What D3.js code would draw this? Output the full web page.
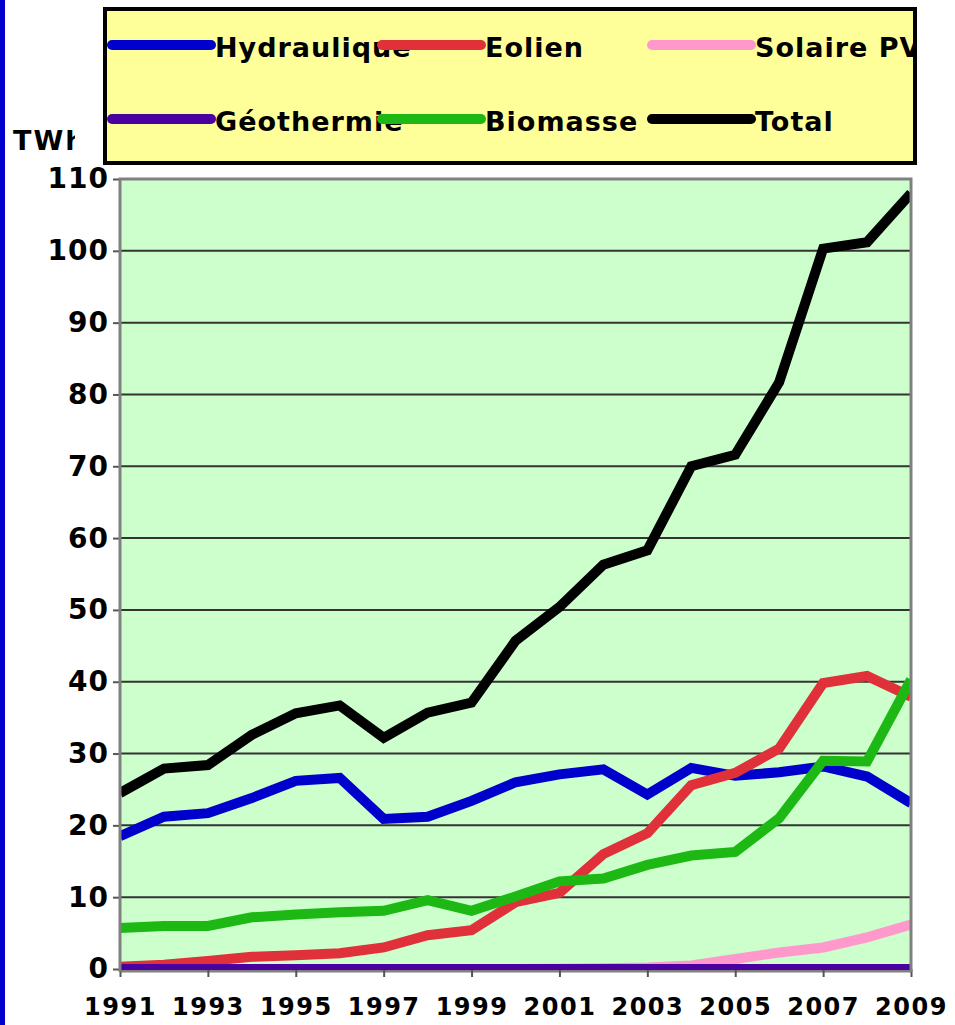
<!DOCTYPE html>
<html>
<head>
<meta charset="utf-8">
<script src="https://cdn.jsdelivr.net/npm/d3@7"></script>
<style>
  html, body { margin: 0; padding: 0; background: #ffffff; }
  svg { display: block; }
  text { font-family: "DejaVu Sans", Verdana, sans-serif; font-weight: bold; fill: #000; }
</style>
</head>
<body>
<svg id="chart" width="955" height="1025"></svg>
<script>
const years = [1991,1992,1993,1994,1995,1996,1997,1998,1999,2000,2001,2002,2003,2004,2005,2006,2007,2008,2009];
const hydraulique = [18.5,21.2,21.7,23.8,26.2,26.6,20.9,21.2,23.4,26.0,27.1,27.8,24.3,28.0,26.9,27.4,28.2,26.8,23.1];
const eolien      = [0.3,0.6,1.1,1.7,1.9,2.2,3.0,4.7,5.4,9.3,10.6,16.0,18.9,25.6,27.3,30.7,39.8,40.8,37.9];
const solairePV   = [0,0,0,0,0,0,0,0,0,0,0.05,0.1,0.2,0.5,1.4,2.3,3.0,4.4,6.2];
const geothermie  = [0,0,0,0,0,0,0,0,0,0,0,0,0,0,0,0,0,0,0];
const biomasse    = [5.7,6.0,6.0,7.2,7.6,7.9,8.1,9.6,8.1,10.1,12.2,12.6,14.5,15.8,16.3,21.0,29.0,28.9,40.3];
const total       = [24.5,27.9,28.4,32.6,35.6,36.7,32.2,35.7,37.1,45.7,50.4,56.3,58.3,70.0,71.6,81.7,100.3,101.2,108.0];

const seriesNames  = ["Hydraulique","Eolien","Solaire PV","Géothermie","Biomasse","Total"];
const seriesColors = ["#0000CC","#E0303A","#FF99CC","#4B00A0","#1EB814","#000000"];
const seriesValues = [hydraulique, eolien, solairePV, geothermie, biomasse, total];

const yTicks = [0,10,20,30,40,50,60,70,80,90,100,110];
const xTicks = [1991,1993,1995,1997,1999,2001,2003,2005,2007,2009];
const yUnit = "TWh";

const svg = d3.select("#chart");

const plot = {left: 120, right: 911, top: 179, bottom: 969};
const x = d3.scaleLinear().domain([1991, 2009]).range([plot.left, plot.right]);
const y = d3.scaleLinear().domain([0, 110]).range([plot.bottom, plot.top]);

// left blue border of the slide
svg.append("rect").attr("x", 0).attr("y", 0).attr("width", 5).attr("height", 1025).attr("fill", "#0000CC");

// plot background
svg.append("rect")
  .attr("x", plot.left).attr("y", plot.top)
  .attr("width", plot.right - plot.left).attr("height", plot.bottom - plot.top)
  .attr("fill", "#CCFFCC");

// gridlines
svg.append("g").selectAll("line")
  .data(yTicks.filter(d => d > 0 && d < 110))
  .join("line")
  .attr("x1", plot.left).attr("x2", plot.right)
  .attr("y1", d => y(d)).attr("y2", d => y(d))
  .attr("stroke", "#333333").attr("stroke-width", 2);

// bottom axis line (under the series)
svg.append("line")
  .attr("x1", plot.left).attr("x2", plot.right)
  .attr("y1", plot.bottom + 2).attr("y2", plot.bottom + 2)
  .attr("stroke", "#808080").attr("stroke-width", 3);

// y axis
const yAxis = d3.axisLeft(y).tickValues(yTicks).tickSize(7).tickPadding(4).tickFormat(d3.format("d"));
const gy = svg.append("g").attr("transform", `translate(${plot.left},0)`).call(yAxis);
gy.select(".domain").remove();
gy.selectAll(".tick line").attr("stroke", "#555").attr("stroke-width", 2);
gy.selectAll(".tick text")
  .style("font-family", "'DejaVu Sans', Verdana, sans-serif")
  .style("font-weight", "bold").style("font-size", "28px")
  .style("letter-spacing", "1px").attr("fill", "#000");

// x axis
const xAxis = d3.axisBottom(x).tickValues(xTicks).tickSize(8).tickPadding(21).tickFormat(d3.format("d"));
const gx = svg.append("g").attr("transform", `translate(0,${plot.bottom})`).call(xAxis);
gx.select(".domain").remove();
gx.selectAll(".tick line").attr("stroke", "#555").attr("stroke-width", 2);
gx.selectAll(".tick text")
  .style("font-family", "'DejaVu Sans', Verdana, sans-serif")
  .style("font-weight", "bold").style("font-size", "24px")
  .style("letter-spacing", "1.5px").attr("fill", "#000");

// clip for lines
svg.append("clipPath").attr("id", "plotclip")
  .append("rect").attr("x", plot.left).attr("y", plot.top)
  .attr("width", plot.right - plot.left).attr("height", plot.bottom - plot.top + 1);

const line = d3.line().x((d, i) => x(years[i])).y(d => y(d));
const lines = svg.append("g").attr("clip-path", "url(#plotclip)");
seriesValues.forEach((vals, k) => {
  lines.append("path")
    .attr("d", line(vals))
    .attr("fill", "none")
    .attr("stroke", seriesColors[k])
    .attr("stroke-width", 10)
    .attr("stroke-linejoin", "miter");
});

// plot frame (gray): left, top, right
svg.append("path")
  .attr("d", `M${plot.left},${plot.bottom + 3} L${plot.left},${plot.top} L${plot.right},${plot.top} L${plot.right},${plot.bottom + 3}`)
  .attr("fill", "none").attr("stroke", "#808080").attr("stroke-width", 3);

// unit label (clipped like its text box)
svg.append("clipPath").attr("id", "unitclip")
  .append("rect").attr("x", 8).attr("y", 110).attr("width", 67).attr("height", 50);
svg.append("text").attr("x", 13).attr("y", 150).attr("clip-path", "url(#unitclip)")
  .style("font-size", "27px").style("letter-spacing", "2px").text(yUnit);

// legend
const lg = svg.append("g");
lg.append("clipPath").attr("id", "legclip")
  .append("rect").attr("x", 105).attr("y", 9).attr("width", 810).attr("height", 154);
lg.append("rect").attr("x", 105).attr("y", 9).attr("width", 810).attr("height", 154)
  .attr("fill", "#FFFF99");
const lgi = lg.append("g").attr("clip-path", "url(#legclip)");
seriesNames.forEach((name, k) => {
  const col = k % 3, row = Math.floor(k / 3);
  const lx = 112 + col * 270;
  const ly = 45 + row * 74;
  lgi.append("line")
    .attr("x1", lx).attr("x2", lx + 99).attr("y1", ly).attr("y2", ly)
    .attr("stroke", seriesColors[k]).attr("stroke-width", 10).attr("stroke-linecap", "round");
  lgi.append("text").attr("x", lx + 103).attr("y", ly + 12)
    .style("font-size", "27px").style("letter-spacing", "1px").text(name);
});
lg.append("rect").attr("x", 105).attr("y", 9).attr("width", 810).attr("height", 154)
  .attr("fill", "none").attr("stroke", "#000").attr("stroke-width", 4);
</script>
</body>
</html>
